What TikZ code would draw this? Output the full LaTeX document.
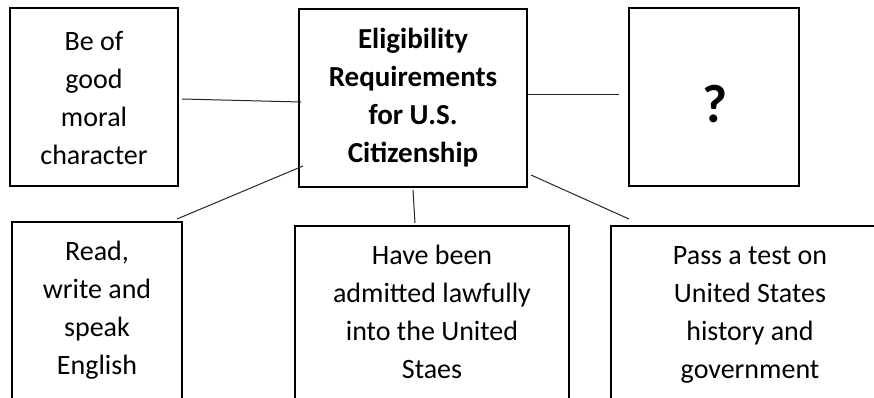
\documentclass[tikz,border=0pt]{standalone}
\usepackage{fontspec}
\setmainfont{Carlito}
\newcommand\tstr{\rule{0pt}{22pt}}
\newcommand\bstr{\rule[-8pt]{0pt}{8pt}}
\begin{document}
\begin{tikzpicture}[x=1pt,y=-1pt,
  box/.style={draw=black,line width=1.7pt,inner sep=0pt,rectangle},
  txt/.style={align=center,inner sep=0pt,font=\fontsize{28}{38}\selectfont},
  btxt/.style={txt,font=\fontsize{29}{38}\selectfont\bfseries},
  conn/.style={draw=black!85,line width=1pt}]
\useasboundingbox (0,0) rectangle (874,397);
\clip (0,0) rectangle (874,397);
% boxes
\node[box,minimum width=168pt,minimum height=178pt] (mor) at (94,97) {};
\node[box,minimum width=228pt,minimum height=178pt] (cen) at (413,98) {};
\node[box,minimum width=170pt,minimum height=178pt] (que) at (714,97) {};
\node[box,minimum width=170pt,minimum height=198pt] (eng) at (97,321) {};
\node[box,minimum width=274pt,minimum height=194pt] (adm) at (432,323) {};
\node[box,minimum width=278pt,minimum height=194pt] (tst) at (750,323) {};
% texts
\node[txt] (tmor) at (94,100) {\tstr Be of\\good\\moral\\character\bstr};
\node[btxt] (tcen) at (413,98) {\tstr Eligibility\\Requirements\\for U.S.\\Citizenship\bstr};
\node[anchor=base,inner sep=0pt,font=\fontsize{54}{60}\selectfont\bfseries] (tque) at (715,122) {?};
\node[txt] (teng) at (97,310) {\tstr Read,\\write and\\speak\\English\bstr};
\node[txt] (tadm) at (432,314) {\tstr Have been\\admitted lawfully\\into the United\\Staes\bstr};
\node[txt] (ttst) at (750,314) {\tstr Pass a test on\\United States\\history and\\government\bstr};
% connector end points
\coordinate (m1) at (182,99);  \coordinate (m2) at (301,102);
\coordinate (q1) at (528,94);  \coordinate (q2) at (619,94);
\coordinate (e1) at (303,166); \coordinate (e2) at (177,219);
\coordinate (a1) at (413,190); \coordinate (a2) at (415,223);
\coordinate (s1) at (531,175); \coordinate (s2) at (629,219);
\draw[conn] (m1) -- (m2);
\draw[conn] (q1) -- (q2);
\draw[conn] (e1) -- (e2);
\draw[conn] (a1) -- (a2);
\draw[conn] (s1) -- (s2);
\end{tikzpicture}
\end{document}
